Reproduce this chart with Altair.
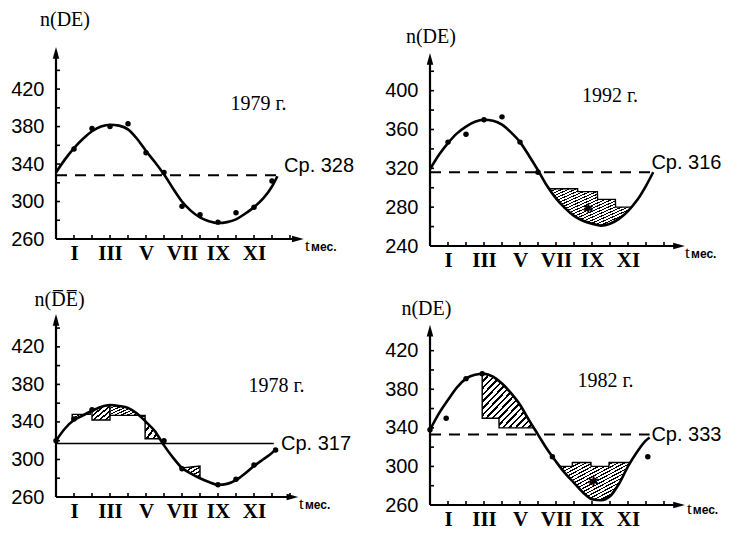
import altair as alt
import pandas as pd

SERIF = "Liberation Serif"
SANS = "Liberation Sans"
PX_PER_MONTH = 18
XMAX = 14.5
W = XMAX * PX_PER_MONTH

ROMAN_POS = [1, 3, 5, 7, 9, 11]
ROMAN_TXT = ["I", "III", "V", "VII", "IX", "XI"]
MONTH_TICKS = list(range(1, 14))

# ---------------- 1979 ----------------
p79_cm = [0, 0.5, 1, 1.5, 2, 2.5, 3, 3.5, 4, 4.5, 5, 5.5, 6, 6.5, 7, 7.5, 8, 8.5, 9, 9.5, 10, 10.5, 11, 11.5, 12, 12.3]
p79_cv = [331, 345, 357, 367, 375, 380, 382, 381, 377, 367, 354, 342, 329, 314, 300, 290, 283, 279, 277, 278, 281, 287, 294, 303, 316, 327]
p79_dm = [1, 2, 3, 4, 5, 6, 7, 8, 9, 10, 11, 12]
p79_dv = [356, 378, 380, 383, 352, 331, 295, 286, 278, 288, 294, 322]
p79_mean = 328
p79_ylab = [260, 300, 340, 380, 420]
p79_yticks = [280, 300, 320, 340, 360, 380, 400, 420, 440]

# ---------------- 1992 ----------------
p92_cm = [0, 0.5, 1, 1.5, 2, 2.5, 3, 3.5, 4, 4.5, 5, 5.5, 6, 6.5, 7, 7.5, 8, 8.5, 9, 9.5, 10, 10.5, 11, 11.5, 12, 12.4]
p92_cv = [319, 334, 346, 356, 363, 368, 370, 369, 365, 357, 347, 333, 318, 302, 289, 279, 271, 266, 263, 261, 263, 268, 276, 287, 302, 316]
p92_dm = [1, 2, 3, 4, 5, 6]
p92_dv = [347, 355, 370, 373, 347, 316]
p92_mean = 316
p92_ylab = [240, 280, 320, 360, 400]
p92_yticks = [260, 280, 300, 320, 340, 360, 380, 400, 420]
p92_h1_m = [6.6, 7, 7.5, 8, 8.2, 8.21, 8.5, 9, 9.3, 9.31, 9.5, 10, 10.3, 10.31, 10.5, 11, 11.2]
p92_h1_c = [299, 289, 279, 271, 269, 269, 266, 263, 262, 262, 261, 263, 266, 266, 268, 276, 280]
p92_h1_s = [299, 299, 299, 299, 299, 296, 296, 296, 296, 288, 288, 288, 288, 280, 280, 280, 280]

# ---------------- 1978 ----------------
p78_cm = [0, 0.5, 1, 1.5, 2, 2.5, 3, 3.5, 4, 4.5, 5, 5.5, 6, 6.5, 7, 7.5, 8, 8.5, 9, 9.5, 10, 10.5, 11, 11.5, 12, 12.2]
p78_cv = [320, 333, 342, 347, 352, 356, 358, 357, 355, 349, 340, 330, 315, 302, 291, 285, 280, 276, 273, 274, 278, 285, 293, 300, 307, 311]
p78_dm = [0, 1, 2, 6, 7, 9, 10, 11, 12.2]
p78_dv = [320, 343, 353, 320, 290, 273, 279, 294, 310]
p78_mean = 317
p78_ylab = [260, 300, 340, 380, 420]
p78_yticks = [280, 300, 320, 340, 360, 380, 400, 420, 440]
p78_hA_m, p78_hA_c, p78_hA_s = [0.9, 1, 1.5, 1.9], [341, 342, 347, 351], [348, 348, 348, 348]
p78_hB_m, p78_hB_c, p78_hB_s = [2.0, 2.5, 3.0], [352, 356, 358], [342, 342, 342]
p78_hC_m, p78_hC_c, p78_hC_s = [3.0, 3.5, 4, 4.5, 4.95], [358, 357, 355, 349, 341], [347, 347, 347, 347, 347]
p78_hD_m, p78_hD_c, p78_hD_s = [4.95, 5, 5.5, 5.7], [341, 340, 330, 324], [322, 322, 322, 322]
p78_hE_m, p78_hE_c, p78_hE_s = [6.9, 7, 7.5, 8.0], [292, 291, 285, 280], [291, 291, 292, 293]

# ---------------- 1982 ----------------
p82_cm = [0, 0.5, 1, 1.5, 2, 2.5, 3, 3.5, 4, 4.5, 5, 5.5, 6, 6.5, 7, 7.5, 8, 8.5, 9, 9.5, 10, 10.5, 11, 11.5, 12, 12.2]
p82_cv = [338, 355, 369, 382, 391, 395, 396, 393, 386, 376, 364, 348, 333, 318, 305, 293, 283, 273, 266, 265, 269, 282, 300, 315, 327, 330]
p82_dm = [0, 0.9, 2, 2.9, 6.8, 12.1]
p82_dv = [338, 350, 391, 396, 310, 310]
p82_mean = 333
p82_ylab = [260, 300, 340, 380, 420]
p82_yticks = [280, 300, 320, 340, 360, 380, 400, 420]
p82_h1_m = [2.9, 3, 3.5, 3.83, 3.84, 4, 4.5, 5, 5.5, 5.75]
p82_h1_c = [396, 396, 393, 388, 388, 386, 376, 364, 348, 340]
p82_h1_s = [350, 350, 350, 350, 340, 340, 340, 340, 340, 340]
p82_h2_m = [7.2, 7.5, 7.9, 7.91, 8, 8.5, 8.94, 8.95, 9, 9.5, 9.94, 9.95, 10, 10.5, 11, 11.13]
p82_h2_c = [300, 293, 285, 285, 283, 273, 267, 267, 266, 265, 269, 269, 269, 282, 300, 304]
p82_h2_s = [300, 300, 300, 304, 304, 304, 304, 300, 300, 300, 300, 304, 304, 304, 304, 304]

ROMAN_EXPR = " : ".join(f"datum.value == {p} ? '{t}'" for p, t in zip(ROMAN_POS, ROMAN_TXT)) + " : ''"

ARROW_UP = "M0,-1L0.5,0.8L-0.5,0.8Z"
ARROW_RIGHT = "M1,0L-0.8,0.5L-0.8,-0.5Z"


def stripes(n, frac=0.38):
    stops = []
    for i in range(n):
        a = i / n
        b = (i + frac) / n
        stops += [
            alt.GradientStop(offset=a, color="white"),
            alt.GradientStop(offset=a, color="black"),
            alt.GradientStop(offset=b, color="black"),
            alt.GradientStop(offset=b, color="white"),
        ]
    stops.append(alt.GradientStop(offset=1, color="white"))
    return alt.Gradient(gradient="linear", stops=stops, x1=0, y1=0, x2=1, y2=1)


def build(P):
    xs = alt.Scale(domain=[0, XMAX], nice=False, zero=False)
    ys = alt.Scale(domain=[P["ymin"], P["ymax"]], nice=False, zero=False)
    ppu = P["height"] / (P["ymax"] - P["ymin"])
    xaxis = alt.Axis(values=ROMAN_POS, labelExpr=ROMAN_EXPR, domain=False, ticks=False, grid=False,
                     title=None, labelFont=SERIF, labelFontSize=21, labelFontWeight="bold",
                     labelColor="black", labelPadding=3, labelOverlap=False, labelFlush=False)
    yaxis = alt.Axis(values=P["ylab"], domain=False, ticks=False, grid=False, title=None,
                     labelFont=SANS, labelFontSize=20, labelColor="black", labelPadding=12,
                     labelOverlap=False, labelFlush=False)

    def X(f="m"):
        return alt.X(f"{f}:Q", scale=xs, axis=xaxis)

    def Y(f="v"):
        return alt.Y(f"{f}:Q", scale=ys, axis=yaxis)

    layers = []
    for hm, hc, hs in P["hatch"]:
        df = pd.DataFrame({"m": hm, "c": hc, "s": hs})
        n = max(3, round((max(hm) - min(hm)) * PX_PER_MONTH * 2 / 6.5))
        layers.append(
            alt.Chart(df).mark_area(fill=stripes(n), stroke="black", strokeWidth=1.4, interpolate="linear")
            .encode(x=X(), y=Y("c"), y2="s:Q")
        )

    # mean line
    mdf = pd.DataFrame({"m0": [0], "m1": [P["mean_end"]], "v": [P["mean"]]})
    layers.append(
        alt.Chart(mdf).mark_rule(color="black", strokeWidth=P["mean_w"], strokeDash=P["mean_dash"])
        .encode(x=X("m0"), x2="m1:Q", y=Y())
    )

    # axes lines
    frame = pd.DataFrame({"x0": [0, 0], "x1": [0, P["arrow_m"]],
                          "y0": [P["ymin"], P["ymin"]], "y1": [P["arrow_v"], P["ymin"]]})
    layers.append(alt.Chart(frame).mark_rule(color="black", strokeWidth=2.2)
                  .encode(x=X("x0"), x2="x1:Q", y=Y("y0"), y2="y1:Q"))
    # tick marks
    ytk = pd.DataFrame({"v": P["yticks"], "m0": 0, "m1": 4 / PX_PER_MONTH})
    layers.append(alt.Chart(ytk).mark_rule(color="black", strokeWidth=1.6)
                  .encode(x=X("m0"), x2="m1:Q", y=Y()))
    xtk = pd.DataFrame({"m": MONTH_TICKS, "v0": P["ymin"], "v1": P["ymin"] + 4 / ppu})
    layers.append(alt.Chart(xtk).mark_rule(color="black", strokeWidth=1.6)
                  .encode(x=X(), y=Y("v0"), y2="v1:Q"))
    # arrows
    layers.append(alt.Chart(pd.DataFrame({"m": [0], "v": [P["arrow_v"]]}))
                  .mark_point(shape=ARROW_UP, size=170, filled=True, color="black", opacity=1)
                  .encode(x=X(), y=Y()))
    layers.append(alt.Chart(pd.DataFrame({"m": [P["arrow_m"]], "v": [P["ymin"]]}))
                  .mark_point(shape=ARROW_RIGHT, size=170, filled=True, color="black", opacity=1)
                  .encode(x=X(), y=Y()))

    # curve
    cdf = pd.DataFrame({"m": P["cm"], "v": P["cv"]})
    layers.append(
        alt.Chart(cdf).mark_line(color="black", strokeWidth=2.6, interpolate="monotone")
        .encode(x=X(), y=Y())
    )
    # dots
    ddf = pd.DataFrame({"m": P["dm"], "v": P["dv"]})
    layers.append(alt.Chart(ddf).mark_circle(color="black", size=30, opacity=1).encode(x=X(), y=Y()))

    # texts
    for t, m, v, font, size, weight, align, base in P["texts"]:
        tdf = pd.DataFrame({"m": [m], "v": [v], "t": [t]})
        layers.append(
            alt.Chart(tdf).mark_text(font=font, fontSize=size, fontWeight=weight, align=align,
                                     baseline=base, color="black")
            .encode(x=X(), y=Y(), text="t:N")
        )
    for sm, sv in P.get("stars", []):
        layers.append(
            alt.Chart(pd.DataFrame({"m": [sm], "v": [sv], "t": ["✱"]}))
            .mark_text(font="DejaVu Sans", fontSize=13, color="black", baseline="middle")
            .encode(x=X(), y=Y(), text="t:N")
        )

    return alt.layer(*layers).properties(width=W, height=P["height"])


P79 = dict(cm=p79_cm, cv=p79_cv, dm=p79_dm, dv=p79_dv, mean=p79_mean, mean_end=12.4,
           mean_dash=[11, 8], mean_w=2, ylab=p79_ylab, yticks=p79_yticks,
           ymin=260, ymax=466, height=193, arrow_v=458, arrow_m=13.4, hatch=[],
           texts=[("n(DE)", 0.5, 487, SERIF, 20, "normal", "center", "alphabetic"),
                  ("1979 г.", 9.7, 398, SERIF, 20, "normal", "left", "alphabetic"),
                  ("Ср. 328", 12.67, 331.7, SANS, 20, "normal", "left", "alphabetic"),
                  ("t", 13.83, 247, SERIF, 17, "normal", "left", "alphabetic"),
                  ("мес.", 14.17, 247, SANS, 12, "bold", "left", "alphabetic")])

P92 = dict(cm=p92_cm, cv=p92_cv, dm=p92_dm, dv=p92_dv, mean=p92_mean, mean_end=12.4,
           mean_dash=[11, 8], mean_w=2, ylab=p92_ylab, yticks=p92_yticks,
           ymin=240, ymax=446, height=200, arrow_v=432, arrow_m=13.8,
           hatch=[(p92_h1_m, p92_h1_c, p92_h1_s)], stars=[(8.8, 278)],
           texts=[("n(DE)", 0.05, 449, SERIF, 20, "normal", "center", "alphabetic"),
                  ("1992 г.", 8.45, 388, SERIF, 20, "normal", "left", "alphabetic"),
                  ("Ср. 316", 12.3, 319, SANS, 20, "normal", "left", "alphabetic"),
                  ("t", 14.17, 228, SERIF, 17, "normal", "left", "alphabetic"),
                  ("мес.", 14.5, 228, SANS, 12, "bold", "left", "alphabetic")])

P78 = dict(cm=p78_cm, cv=p78_cv, dm=p78_dm, dv=p78_dv, mean=p78_mean, mean_end=12.1,
           mean_dash=[1, 0], mean_w=1.3, ylab=p78_ylab, yticks=p78_yticks,
           ymin=260, ymax=455, height=183, arrow_v=448, arrow_m=13.1,
           hatch=[(p78_hA_m, p78_hA_c, p78_hA_s), (p78_hB_m, p78_hB_c, p78_hB_s),
                  (p78_hC_m, p78_hC_c, p78_hC_s), (p78_hD_m, p78_hD_c, p78_hD_s),
                  (p78_hE_m, p78_hE_c, p78_hE_s)],
           texts=[("n(D\u0305E\u0305)", 0.2, 463, SERIF, 20, "normal", "center", "alphabetic"),
                  ("1978 г.", 10.7, 372, SERIF, 20, "normal", "left", "alphabetic"),
                  ("Ср. 317", 12.5, 317, SANS, 20, "normal", "left", "middle"),
                  ("t", 13.5, 247, SERIF, 17, "normal", "left", "alphabetic"),
                  ("мес.", 13.83, 247, SANS, 12, "bold", "left", "alphabetic")])

P82 = dict(cm=p82_cm, cv=p82_cv, dm=p82_dm, dv=p82_dv, mean=p82_mean, mean_end=12.2,
           mean_dash=[11, 8], mean_w=2, ylab=p82_ylab, yticks=p82_yticks,
           ymin=260, ymax=458, height=191, arrow_v=440, arrow_m=13.8,
           hatch=[(p82_h1_m, p82_h1_c, p82_h1_s), (p82_h2_m, p82_h2_c, p82_h2_s)],
           stars=[(9.1, 284)],
           texts=[("n(DE)", -0.2, 457, SERIF, 20, "normal", "center", "alphabetic"),
                  ("1982 г.", 8.2, 382, SERIF, 20, "normal", "left", "alphabetic"),
                  ("Ср. 333", 12.3, 333, SANS, 20, "normal", "left", "middle"),
                  ("t", 14.28, 251, SERIF, 17, "normal", "left", "alphabetic"),
                  ("мес.", 14.6, 251, SANS, 12, "bold", "left", "alphabetic")])

chart = (
    alt.concat(build(P79), build(P92), build(P78), build(P82), columns=2,
               spacing={"row": 68, "column": 113}, bounds="flush")
    .properties(padding={"left": 2, "top": 2, "right": 0, "bottom": 0}, background="white")
    .configure_view(stroke=None)
)

chart.save("out.html", embed_options={"renderer": "svg", "actions": False})
